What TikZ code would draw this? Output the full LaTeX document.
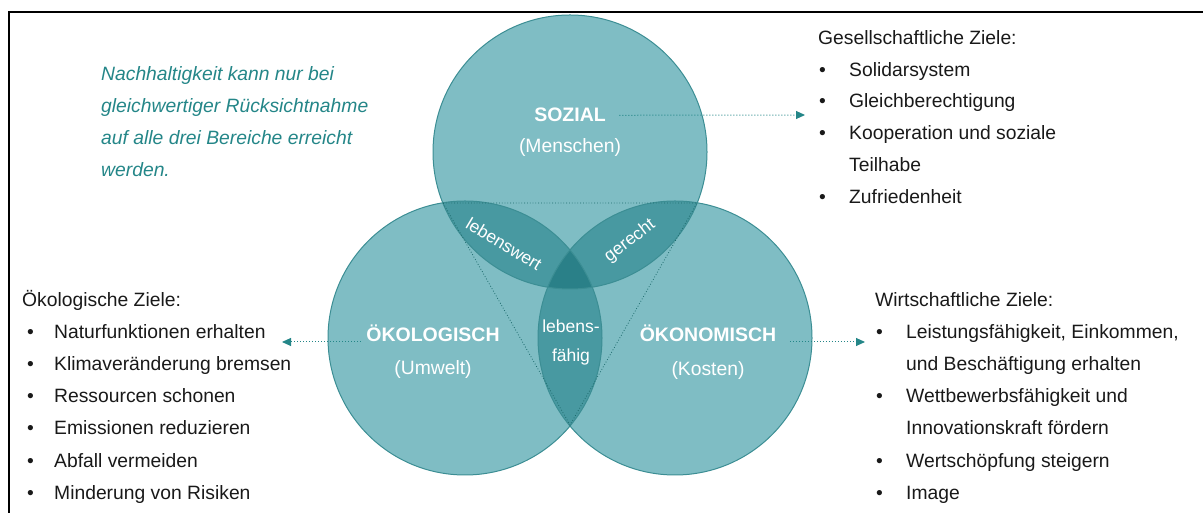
\documentclass[tikz,border=0pt]{standalone}
\usepackage{fontspec}
\setmainfont{Liberation Sans}
\usetikzlibrary{calc,arrows.meta}

\definecolor{kreisfill}{RGB}{127,189,196}
\definecolor{schnittfill}{RGB}{72,153,161}
\definecolor{mittefill}{RGB}{42,128,136}
\definecolor{kreisrand}{RGB}{60,142,148}
\definecolor{tuerkis}{RGB}{36,134,136}
\definecolor{schrift}{RGB}{25,25,25}

\newcommand{\punkt}[1]{\makebox[#1][l]{\textbullet}}
\def\rad{137pt}

\tikzset{
  kreis/.style={draw=kreisrand, line width=1pt},
  titel/.style={anchor=base, text=white, font=\fontsize{19.5}{24}\selectfont\bfseries},
  untertitel/.style={anchor=base, text=white, font=\fontsize{19.3}{24}\selectfont},
  schnitttext/.style={text=white, inner sep=1pt, font=\fontsize{17.5}{29}\selectfont, align=center},
  zeile/.style={anchor=base west, text=schrift, inner sep=0pt, font=\fontsize{19.3}{24}\selectfont},
  hinweis/.style={anchor=base west, text=tuerkis, inner sep=0pt, font=\fontsize{19.3}{24}\selectfont\itshape},
  pfeil/.style={draw=tuerkis, dotted, line width=1pt, -{Triangle[length=9pt,width=8pt]}},
  hilfslinie/.style={draw=tuerkis!80!black, dotted, line width=0.8pt}
}

\begin{document}
\begin{tikzpicture}[x=1pt,y=1pt]
		%%%%% START %%%%%
		\useasboundingbox (0,0) rectangle (1203,513);
		
		\draw[line width=1.6pt] (9,0) -- (9,501) -- (1203,501);
		
		\coordinate (sozm) at (570,361);
		\coordinate (oekom) at (465,175);
		\coordinate (oekonm) at (675,175);
		
		\fill[kreisfill] (sozm) circle [radius=\rad];
		\fill[kreisfill] (oekom) circle [radius=\rad];
		\fill[kreisfill] (oekonm) circle [radius=\rad];
		
		\begin{scope}
			\clip (sozm) circle [radius=\rad];
			\fill[schnittfill] (oekom) circle [radius=\rad];
			\fill[schnittfill] (oekonm) circle [radius=\rad];
		\end{scope}
		\begin{scope}
			\clip (oekom) circle [radius=\rad];
			\fill[schnittfill] (oekonm) circle [radius=\rad];
			\clip (sozm) circle [radius=\rad];
			\fill[mittefill] (oekonm) circle [radius=\rad];
		\end{scope}
		
		\draw[kreis] (sozm) circle [radius=\rad];
		\draw[kreis] (oekom) circle [radius=\rad];
		\draw[kreis] (oekonm) circle [radius=\rad];
		
		\coordinate (ecklinks) at (443,310);
		\coordinate (eckrechts) at (697,310);
		\coordinate (eckunten) at (570,88);
		\draw[hilfslinie] (ecklinks) -- (eckrechts) -- (eckunten) -- cycle;
		
		\node[titel] (soz) at (570,391) {SOZIAL};
		\node[untertitel] (menschen) at (570,360) {(Menschen)};
		\node[titel] (oeko) at (433,171) {ÖKOLOGISCH};
		\node[untertitel] (umwelt) at (433,138) {(Umwelt)};
		\node[titel] (oekon) at (708,171) {ÖKONOMISCH};
		\node[untertitel] (kosten) at (708,137) {(Kosten)};
		
		\node[schnitttext, rotate=-31] (lebenswert) at (504,269) {lebenswert};
		\node[schnitttext, rotate=37] (gerecht) at (630,272) {gerecht};
		\node[schnitttext] (lebensfaehig) at (571,171) {lebens-\\fähig};
		
		\coordinate (sozziel) at (805,398);
		\coordinate (oekoziel) at (282,171);
		\coordinate (oekonziel) at (865,171);
		\draw[pfeil] ([xshift=10pt]soz.east) -- (sozziel);
		\draw[pfeil] ([xshift=-2pt]oeko.base west) -- (oekoziel);
		\draw[pfeil] ([xshift=10pt]oekon.base east) -- (oekonziel);
		
		\node[hinweis] (hinweis1) at (101,432) {Nachhaltigkeit kann nur bei};
		\node[hinweis] (hinweis2) at (101,400) {gleichwertiger Rücksichtnahme};
		\node[hinweis] (hinweis3) at (101,368) {auf alle drei Bereiche erreicht};
		\node[hinweis] (hinweis4) at (101,336) {werden.};
		
		\node[zeile] (gesziele) at (818,468) {Gesellschaftliche Ziele:};
		\node[zeile] (ges1) at (819,436) {\punkt{30pt}Solidarsystem};
		\node[zeile] (ges2) at (819,405) {\punkt{30pt}Gleichberechtigung};
		\node[zeile] (ges3) at (819,373) {\punkt{30pt}Kooperation und soziale};
		\node[zeile] (ges3b) at (849,341) {Teilhabe};
		\node[zeile] (ges4) at (819,309) {\punkt{30pt}Zufriedenheit};
		
		\node[zeile] (oekoziele) at (22,206) {Ökologische Ziele:};
		\node[zeile] (oeko1) at (27,174) {\punkt{27pt}Naturfunktionen erhalten};
		\node[zeile] (oeko2) at (27,142) {\punkt{27pt}Klimaveränderung bremsen};
		\node[zeile] (oeko3) at (27,110) {\punkt{27pt}Ressourcen schonen};
		\node[zeile] (oeko4) at (27,78) {\punkt{27pt}Emissionen reduzieren};
		\node[zeile] (oeko5) at (27,45) {\punkt{27pt}Abfall vermeiden};
		\node[zeile] (oeko6) at (27,13) {\punkt{27pt}Minderung von Risiken};
		
		\node[zeile] (wirtziele) at (875,206) {Wirtschaftliche Ziele:};
		\node[zeile] (wirt1) at (876,174) {\punkt{30pt}Leistungsfähigkeit, Einkommen,};
		\node[zeile] (wirt1b) at (906,142) {und Beschäftigung erhalten};
		\node[zeile] (wirt2) at (876,110) {\punkt{30pt}Wettbewerbsfähigkeit und};
		\node[zeile] (wirt2b) at (906,78) {Innovationskraft fördern};
		\node[zeile] (wirt3) at (876,45) {\punkt{30pt}Wertschöpfung steigern};
		\node[zeile] (wirt4) at (876,13) {\punkt{30pt}Image};
		
		%%%%% END %%%%%
\end{tikzpicture}
\end{document}
